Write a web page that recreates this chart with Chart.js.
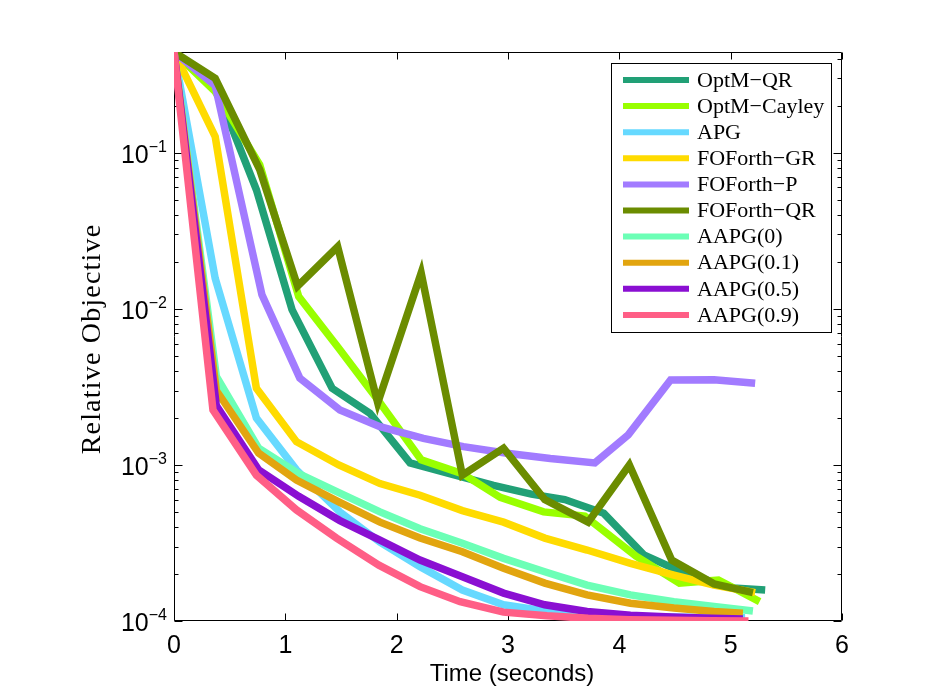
<!DOCTYPE html>
<html>
<head>
<meta charset="utf-8">
<script src="https://cdn.jsdelivr.net/npm/chart.js@4.4.1/dist/chart.umd.min.js"></script>
<style>
  body { margin: 0; background: #fff; }
  canvas { display: block; }
</style>
</head>
<body>
<canvas id="objChart" width="930" height="700"></canvas>
<script>
const seriesNames = ["OptM−QR", "OptM−Cayley", "APG", "FOForth−GR", "FOForth−P",
  "FOForth−QR", "AAPG(0)", "AAPG(0.1)", "AAPG(0.5)", "AAPG(0.9)"];
const lineColors = ["#21a076", "#99ff00", "#66d9ff", "#ffdb00", "#a27bff",
  "#6b8c00", "#6cffb6", "#e2a50f", "#8a0fd2", "#ff5e86"];

// time (s) and relative objective
const tOptmQr = [0, 0.37, 0.74, 1.06, 1.42, 1.76, 2.12, 2.5, 2.87, 3.21, 3.51, 3.86, 4.22, 4.6, 5.02, 5.31];
const vOptmQr = [0.443, 0.27, 0.058, 0.0099, 0.0031, 0.00214, 0.00103, 0.00087, 0.00074, 0.00065, 0.0006, 0.00049, 0.000265, 0.0002, 0.000163, 0.000158];

const tOptmCayley = [0, 0.37, 0.77, 1.12, 1.48, 1.85, 2.22, 2.59, 2.93, 3.32, 3.69, 4.15, 4.54, 4.89, 5.26];
const vOptmCayley = [0.443, 0.247, 0.084, 0.012, 0.0056, 0.0025, 0.00108, 0.00088, 0.00062, 0.0005, 0.00047, 0.00026, 0.000175, 0.000183, 0.000133];

const tApg = [0, 0.37, 0.74, 1.1, 1.49, 1.85, 2.21, 2.59, 2.96, 3.33, 3.71, 4.1, 4.47, 4.84, 5.13];
const vApg = [0.443, 0.0157, 0.002, 0.00093, 0.0005, 0.00032, 0.000223, 0.000158, 0.000127, 0.000116, 0.00011, 0.000107, 0.000106, 0.000105, 0.000105];

const tFoGr = [0, 0.37, 0.74, 1.1, 1.48, 1.85, 2.21, 2.59, 2.96, 3.33, 3.71, 4.1, 4.49, 4.85, 5.22];
const vFoGr = [0.443, 0.127, 0.0031, 0.00141, 0.001, 0.00076, 0.00064, 0.00051, 0.00043, 0.00034, 0.000285, 0.000234, 0.000197, 0.00017, 0.000152];

const tFoP = [0, 0.37, 0.79, 1.13, 1.49, 1.85, 2.24, 2.6, 2.99, 3.38, 3.78, 4.08, 4.46, 4.85, 5.22];
const vFoP = [0.443, 0.27, 0.0123, 0.0036, 0.00225, 0.00176, 0.00148, 0.00131, 0.00119, 0.0011, 0.00103, 0.00156, 0.0035, 0.00352, 0.00334];

const tFoQr = [0, 0.37, 0.77, 1.11, 1.47, 1.83, 2.22, 2.59, 2.96, 3.33, 3.72, 4.09, 4.47, 4.85, 5.2];
const vFoQr = [0.443, 0.3, 0.078, 0.014, 0.025, 0.0025, 0.017, 0.00086, 0.00128, 0.0006, 0.00043, 0.001, 0.000246, 0.000173, 0.000152];

const tAapg0 = [0, 0.38, 0.76, 1.12, 1.49, 1.85, 2.21, 2.59, 2.96, 3.33, 3.71, 4.1, 4.49, 4.85, 5.2];
const vAapg0 = [0.443, 0.0037, 0.00128, 0.00088, 0.00066, 0.0005, 0.00039, 0.000315, 0.000252, 0.000207, 0.00017, 0.000147, 0.000133, 0.000124, 0.000116];

const tAapg01 = [0, 0.38, 0.76, 1.1, 1.48, 1.85, 2.21, 2.59, 2.96, 3.33, 3.71, 4.1, 4.49, 4.85, 5.11];
const vAapg01 = [0.443, 0.003, 0.00119, 0.0008, 0.00058, 0.00043, 0.00034, 0.000278, 0.000218, 0.000175, 0.000147, 0.00013, 0.000121, 0.000115, 0.000112];

const tAapg05 = [0, 0.38, 0.76, 1.12, 1.49, 1.85, 2.21, 2.59, 2.96, 3.33, 3.71, 4.1, 4.47, 4.83, 5.11];
const vAapg05 = [0.443, 0.0024, 0.00093, 0.00063, 0.00044, 0.00033, 0.000246, 0.000192, 0.000151, 0.000127, 0.000115, 0.000109, 0.000106, 0.000104, 0.000103];

const tAapg09 = [0, 0.35, 0.74, 1.1, 1.46, 1.84, 2.21, 2.57, 2.96, 3.35, 3.72, 4.09, 4.46, 4.83, 5.16];
const vAapg09 = [0.443, 0.00225, 0.00086, 0.000515, 0.00034, 0.000228, 0.000166, 0.000133, 0.000114, 0.000108, 0.000104, 0.000102, 0.000101, 0.0001005, 0.0001];

const seriesTimes = [tOptmQr, tOptmCayley, tApg, tFoGr, tFoP, tFoQr, tAapg0, tAapg01, tAapg05, tAapg09];
const seriesValues = [vOptmQr, vOptmCayley, vApg, vFoGr, vFoP, vFoQr, vAapg0, vAapg01, vAapg05, vAapg09];

const xTicks = [0, 1, 2, 3, 4, 5, 6];
const yDecades = [-4, -3, -2, -1];
const xMin = 0, xMax = 6;
const yMin = 1e-4, yMax = 0.443;

const SANS = "'Liberation Sans', Arial, sans-serif";
const SERIF = "'Liberation Serif', 'Times New Roman', serif";

// MATLAB style box, inward ticks, labels and legend
const matlabAxes = {
  id: "matlabAxes",
  beforeDatasetsDraw(chart) {
    const { ctx, chartArea: a } = chart;
    const xs = chart.scales.x, ys = chart.scales.y;
    const L = Math.round(a.left) + 0.5, R = Math.round(a.right) - 0.5;
    const T = Math.round(a.top) + 0.5, B = Math.round(a.bottom) - 0.5;
    ctx.save();
    ctx.strokeStyle = "#000";
    ctx.lineWidth = 1;
    ctx.beginPath();
    ctx.rect(L, T, R - L, B - T);

    xTicks.forEach(v => {
      const px = Math.round(xs.getPixelForValue(v)) + 0.5;
      ctx.moveTo(px, B); ctx.lineTo(px, B - 7);
      ctx.moveTo(px, T); ctx.lineTo(px, T + 7);
    });

    for (let d = -5; d <= 0; d++) {
      for (let m = 1; m <= 9; m++) {
        const v = m * Math.pow(10, d);
        if (v < yMin * 0.999 || v > yMax) continue;
        const py = Math.round(ys.getPixelForValue(v)) + 0.5;
        const len = m === 1 ? 8 : 4;
        ctx.moveTo(L, py); ctx.lineTo(L + len, py);
        ctx.moveTo(R, py); ctx.lineTo(R - len, py);
      }
    }
    ctx.stroke();
    ctx.restore();
  },
  afterDraw(chart) {
    const { ctx, chartArea: a } = chart;
    const xs = chart.scales.x, ys = chart.scales.y;
    ctx.save();
    ctx.fillStyle = "#000";

    // x tick labels
    ctx.font = "25px " + SANS;
    ctx.textAlign = "center";
    ctx.textBaseline = "alphabetic";
    xTicks.forEach(v => {
      ctx.fillText(String(v), xs.getPixelForValue(v), a.bottom + 32);
    });

    // y tick labels 10^n
    yDecades.forEach(d => {
      const py = ys.getPixelForValue(Math.pow(10, d));
      const exp = "−" + Math.abs(d);
      ctx.font = "16px " + SANS;
      const ew = ctx.measureText(exp).width;
      ctx.textAlign = "left";
      ctx.textBaseline = "alphabetic";
      const ex = a.left - 7 - ew;
      ctx.fillText(exp, ex, py - 1);
      ctx.font = "25px " + SANS;
      ctx.textAlign = "right";
      ctx.fillText("10", ex, py + 10);
    });

    // axis titles
    ctx.font = "24px " + SANS;
    ctx.textAlign = "center";
    ctx.fillText("Time (seconds)", (a.left + a.right) / 2 + 4, a.bottom + 60);

    ctx.save();
    ctx.translate(93, 339);
    ctx.rotate(-Math.PI / 2);
    ctx.font = "28px " + SERIF;
    ctx.letterSpacing = "1.2px";
    ctx.textBaseline = "middle";
    ctx.fillText("Relative Objective", 0, 0);
    ctx.restore();

    // legend
    const bx = 611.5, by = 63.5, bw = 220, bh = 269;
    ctx.fillStyle = "#fff";
    ctx.fillRect(bx, by, bw, bh);
    ctx.strokeStyle = "#000";
    ctx.lineWidth = 1;
    ctx.strokeRect(bx, by, bw, bh);
    ctx.font = "22px " + SERIF;
    ctx.textAlign = "left";
    ctx.textBaseline = "middle";
    seriesNames.forEach((name, i) => {
      const cy = 80 + i * 26.1;
      ctx.strokeStyle = lineColors[i];
      ctx.lineWidth = 6;
      ctx.beginPath();
      ctx.moveTo(623, cy);
      ctx.lineTo(689, cy);
      ctx.stroke();
      ctx.fillStyle = "#000";
      ctx.fillText(name, 697, cy + 1);
    });
    ctx.restore();
  }
};

const datasets = seriesNames.map((name, i) => ({
  label: name,
  data: seriesTimes[i].map((t, j) => ({ x: t, y: seriesValues[i][j] })),
  borderColor: lineColors[i],
  backgroundColor: lineColors[i],
  borderWidth: 7.5,
  borderJoinStyle: "miter",
  pointRadius: 0,
  fill: false,
  tension: 0,
  clip: 0,
  order: seriesNames.length - i
}));

new Chart(document.getElementById("objChart"), {
  type: "line",
  data: { datasets },
  options: {
    responsive: false,
    animation: false,
    layout: { padding: { left: 174, top: 52, right: 88, bottom: 79 } },
    plugins: {
      legend: { display: false },
      tooltip: { enabled: false }
    },
    scales: {
      x: { type: "linear", min: xMin, max: xMax, display: false },
      y: { type: "logarithmic", min: yMin, max: yMax, display: false }
    }
  },
  plugins: [matlabAxes]
});
</script>
</body>
</html>
